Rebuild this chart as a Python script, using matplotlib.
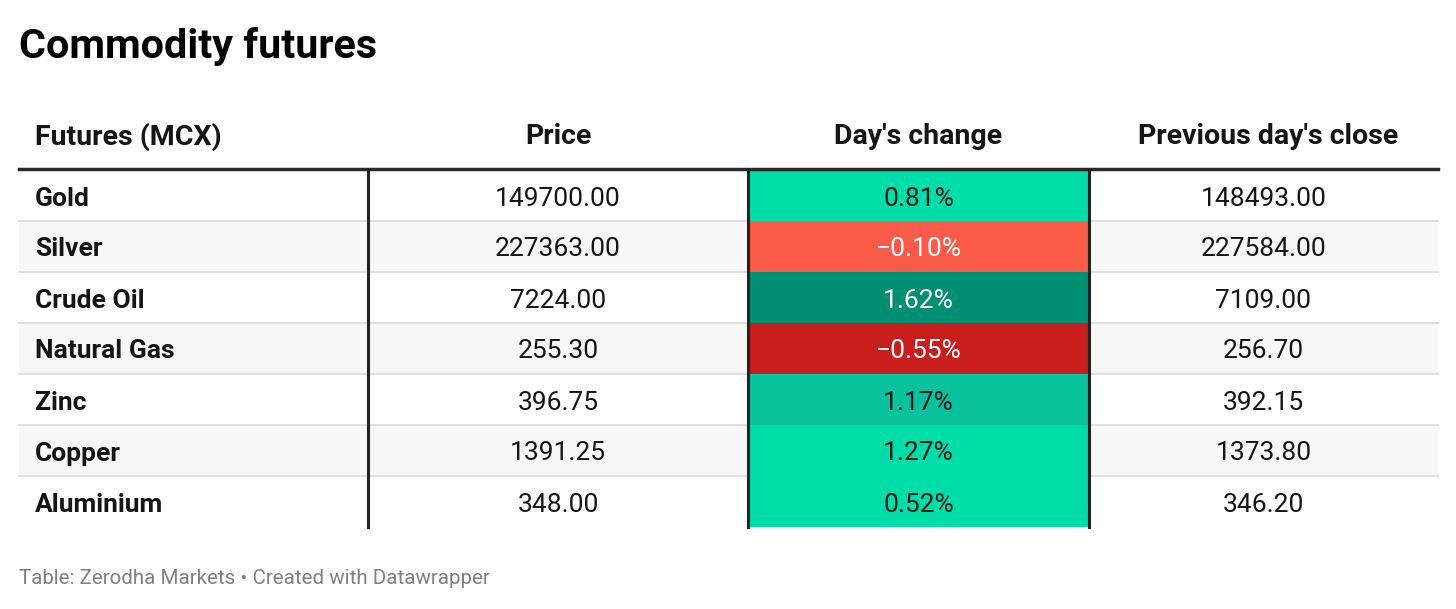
import matplotlib.pyplot as plt
from matplotlib.patches import Rectangle

plt.rcParams['font.family'] = ['Roboto', 'DejaVu Sans']

# table data
futures = ['Gold', 'Silver', 'Crude Oil', 'Natural Gas', 'Zinc', 'Copper', 'Aluminium']
price = ['149700.00', '227363.00', '7224.00', '255.30', '396.75', '1391.25', '348.00']
change = [0.81, -0.10, 1.62, -0.55, 1.17, 1.27, 0.52]
prev_close = ['148493.00', '227584.00', '7109.00', '256.70', '392.15', '1373.80', '346.20']
headers = ['Futures (MCX)', 'Price', "Day's change", "Previous day's close"]

def cell_color(v):
    # colour buckets as in the reference
    if v < -0.3:
        return '#c81e1e', 'white'
    if v < 0:
        return '#fa5a48', 'white'
    if v > 1.5:
        return '#008f72', 'white'
    if v > 1.1 and v < 1.2:
        return '#0bc29f', '#1a1a1a'
    return '#00dda8', '#1a1a1a'

W, H = 1456, 609
fig = plt.figure(figsize=(W / 100, H / 100), dpi=100)
ax = fig.add_axes([0, 0, 1, 1])
ax.set_xlim(0, W)
ax.set_ylim(H, 0)
ax.axis('off')

left, right = 19, 1438
cols = [19, 368, 748, 1089, 1438]
top = 170
rh = 51
fs = 19

ax.text(19, 46, 'Commodity futures', fontsize=29.7, fontweight='bold',
        va='center', ha='left', color='#000000')

# header
hy = 137
ax.text(35, hy, headers[0], fontsize=20.5, fontweight='bold', va='center', ha='left', color='#151515')
for i in range(1, 4):
    cx = (cols[i] + cols[i + 1]) / 2 + (5 if i == 3 else 0)
    ax.text(cx, hy, headers[i], fontsize=20.5, fontweight='bold', va='center', ha='center', color='#151515')

for r, name in enumerate(futures):
    y0 = top + r * rh
    bg = '#f7f7f7' if r % 2 == 1 else 'white'
    ax.add_patch(Rectangle((left, y0), right - left, rh, facecolor=bg, edgecolor='none', zorder=1))
    fc, tc = cell_color(change[r])
    ax.add_patch(Rectangle((cols[2], y0), cols[3] - cols[2], rh, facecolor=fc, edgecolor='none', zorder=2))
    if r > 0:
        ax.plot([left, right], [y0, y0], color='#e0e0e0', lw=1.5, zorder=1.5)
    yc = y0 + rh / 2 + 3
    ax.text(35, yc, name, fontsize=fs, fontweight='bold', va='center', ha='left', color='#151515', zorder=3)
    ax.text((cols[1] + cols[2]) / 2, yc, price[r], fontsize=fs, va='center', ha='center', color='#151515', zorder=3)
    ax.text((cols[2] + cols[3]) / 2, yc, f'{change[r]:.2f}%'.replace('-', '\u2212'), fontsize=fs,
            va='center', ha='center', color=tc, zorder=3)
    ax.text((cols[3] + cols[4]) / 2, yc, prev_close[r], fontsize=fs, va='center', ha='center', color='#151515', zorder=3)

bottom = top + rh * len(futures)
ax.plot([left, right], [top - 1, top - 1], color='#2a2a2a', lw=2.5, zorder=4)
for x in cols[1:4]:
    ax.plot([x, x], [top, bottom], color='#222222', lw=2.2, zorder=4)

ax.text(19, 578, 'Table: Zerodha Markets \u2022 Created with Datawrapper', fontsize=14.8,
        va='center', ha='left', color='#808080')

fig.savefig('out.png', dpi=100)
